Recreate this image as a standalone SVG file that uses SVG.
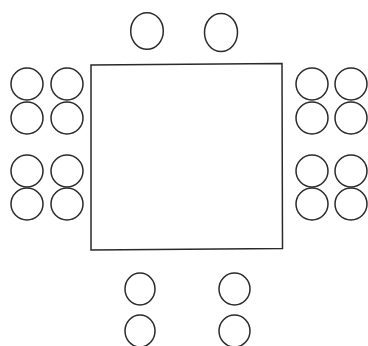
<svg xmlns="http://www.w3.org/2000/svg" width="368" height="346" viewBox="0 0 368 346">
<style>
.s{fill:none;stroke:#2a2a2a;stroke-width:1.5}
</style>
<rect width="368" height="346" fill="#fff"/>
<g id="table"><polygon class="s" points="91,65 282,63.5 282.5,248.5 91,250"/></g>
<g id="top-seats">
<ellipse class="s" cx="147" cy="31" rx="16.3" ry="18.3"/>
<ellipse class="s" cx="221" cy="32.5" rx="16.5" ry="19"/>
</g>
<g id="left-seats">
<circle class="s" cx="27" cy="84" r="16"/>
<circle class="s" cx="67" cy="84" r="16"/>
<circle class="s" cx="27" cy="118" r="16"/>
<circle class="s" cx="67" cy="118" r="16"/>
<circle class="s" cx="27" cy="171" r="16"/>
<circle class="s" cx="67" cy="171" r="16"/>
<circle class="s" cx="27" cy="204" r="16"/>
<circle class="s" cx="67" cy="204" r="16"/>
</g>
<g id="right-seats">
<circle class="s" cx="312" cy="84" r="16"/>
<circle class="s" cx="351" cy="84" r="16"/>
<circle class="s" cx="312" cy="118" r="16"/>
<circle class="s" cx="351" cy="118" r="16"/>
<circle class="s" cx="312" cy="171" r="16"/>
<circle class="s" cx="351" cy="171" r="16"/>
<circle class="s" cx="312" cy="204" r="16"/>
<circle class="s" cx="351" cy="204" r="16"/>
</g>
<g id="bottom-seats">
<ellipse class="s" cx="140" cy="289" rx="15" ry="16"/>
<ellipse class="s" cx="234.5" cy="289" rx="15.5" ry="16"/>
<ellipse class="s" cx="140" cy="331" rx="15" ry="16"/>
<ellipse class="s" cx="234.5" cy="331" rx="15.5" ry="16"/>
</g>
<g id="connectors"/>
</svg>
